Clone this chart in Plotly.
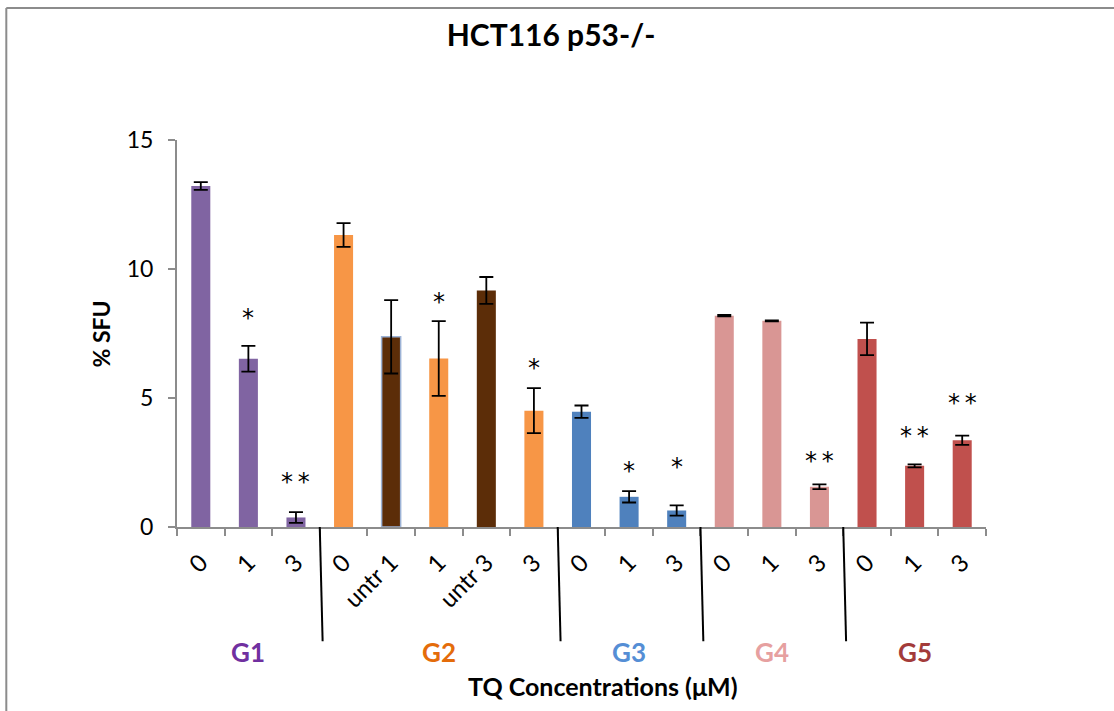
import plotly.graph_objects as go

# Colony formation (% SFU) per treatment group and TQ concentration
tick_labels = ["0", "1", "3",
               "0", "untr 1", "1", "untr 3", "3",
               "0", "1", "3",
               "0", "1", "3",
               "0", "1", "3"]
sfu_values = [13.22, 6.52, 0.37,
              11.32, 7.37, 6.53, 9.17, 4.51,
              4.47, 1.17, 0.64,
              8.19, 7.99, 1.56,
              7.29, 2.37, 3.36]
sfu_errors = [0.15, 0.50, 0.21,
              0.46, 1.42, 1.45, 0.52, 0.87,
              0.24, 0.22, 0.20,
              0.03, 0.02, 0.09,
              0.63, 0.06, 0.18]
significance = ["", "*", "**",
                "", "", "*", "", "*",
                "", "*", "*",
                "", "", "**",
                "", "**", "**"]
group_names = ["G1", "G2", "G3", "G4", "G5"]
group_centers = [1, 5, 9, 12, 15]
group_bounds = [2.5, 7.5, 10.5, 13.5]

PURPLE = "#8064A2"
ORANGE = "#F79646"
BROWN = "#5C2D08"
BLUE = "#4F81BD"
PINK = "#D99694"
RED = "#C0504D"
bar_colors = [PURPLE] * 3 + [ORANGE, BROWN, ORANGE, BROWN, ORANGE] + [BLUE] * 3 + [PINK] * 3 + [RED] * 3
group_colors = ["#7030A0", "#E46C0A", "#558ED5", "#E6A0A0", "#A33B3A"]
star_shift = [0, 28, 30, 0, 0, 19, 0, 20, 0, 20, 38, 0, 0, 23, 0, 28, 33]

FONT = "Lato"
x_pos = list(range(len(tick_labels)))

fig = go.Figure()
fig.add_trace(go.Bar(
    x=x_pos, y=sfu_values, width=0.4,
    marker=dict(color=bar_colors,
                line=dict(color=["rgba(0,0,0,0)"] * 4 + ["#9DB3D6"] + ["rgba(0,0,0,0)"] * 12,
                          width=1.5)),
    error_y=dict(type="data", array=sfu_errors, visible=True,
                 color="black", thickness=1.8, width=7),
    hoverinfo="skip",
))

annotations = []
for i, s in enumerate(significance):
    if s:
        annotations.append(dict(
            x=i, y=sfu_values[i] + sfu_errors[i], xref="x", yref="y",
            text="\u2009".join(s), showarrow=False, yanchor="middle", yshift=star_shift[i],
            font=dict(family="DejaVu Sans", size=24, color="black")))

for name, c, col in zip(group_names, group_centers, group_colors):
    annotations.append(dict(
        x=c, y=-0.322, xref="x", yref="paper", text="<b>%s</b>" % name,
        showarrow=False, xanchor="center", yanchor="middle",
        font=dict(family=FONT, size=26, color=col)))

annotations.append(dict(
    x=0.527, y=-0.412, xref="paper", yref="paper",
    text="<b>TQ Concentrations (μM)</b>", showarrow=False,
    xanchor="center", yanchor="middle",
    font=dict(family=FONT, size=25, color="black")))
annotations.append(dict(
    x=-0.094, y=0.5, xref="paper", yref="paper", text="<b>% SFU</b>",
    textangle=-90, showarrow=False, xanchor="center", yanchor="middle",
    font=dict(family=FONT, size=23, color="black")))

shapes = []
# Separators between treatment groups below the axis
for b in group_bounds:
    shapes.append(dict(type="line", xref="x", yref="paper",
                       x0=b, x1=b + 0.06, y0=0, y1=-0.295,
                       line=dict(color="black", width=2)))
# Chart frame (top and left edges)
shapes.append(dict(type="line", xref="paper", yref="paper",
                   x0=-0.211, x1=1.2, y0=1.341, y1=1.341,
                   line=dict(color="#8C8C8C", width=2)))
shapes.append(dict(type="line", xref="paper", yref="paper",
                   x0=-0.211, x1=-0.211, y0=1.341, y1=-0.5,
                   line=dict(color="#8C8C8C", width=2)))

fig.update_layout(
    width=1114, height=711,
    margin=dict(l=177, r=128, t=140, b=184),
    paper_bgcolor="white", plot_bgcolor="white",
    showlegend=False,
    title=dict(text="<b>HCT116 p53-/-</b>", x=551 / 1114, xref="container",
               y=1 - 35 / 711, yref="container", xanchor="center", yanchor="middle",
               font=dict(family=FONT, size=30, color="black")),
    annotations=annotations,
    shapes=shapes,
    bargap=0.6,
)
fig.update_xaxes(
    range=[-0.5, 16.5], tickmode="array", tickvals=x_pos, ticktext=tick_labels,
    tickangle=-45, ticks="", showline=True, linecolor="#8C8C8C", linewidth=2,
    showgrid=False, zeroline=False, ticklabelstandoff=10,
    tickfont=dict(family=FONT, size=24, color="black"),
    minor=dict(tick0=0.5, dtick=1, ticks="outside", ticklen=7,
               tickcolor="#8C8C8C", tickwidth=2, showgrid=False),
)
fig.update_yaxes(
    range=[0, 15], tickvals=[0, 5, 10, 15], ticks="outside", ticklen=7,
    tickcolor="#8C8C8C", tickwidth=2, showline=True, linecolor="#8C8C8C",
    linewidth=2, showgrid=False, zeroline=False, ticklabelstandoff=10,
    tickfont=dict(family=FONT, size=23, color="black"),
)

fig.write_html("out.html")
